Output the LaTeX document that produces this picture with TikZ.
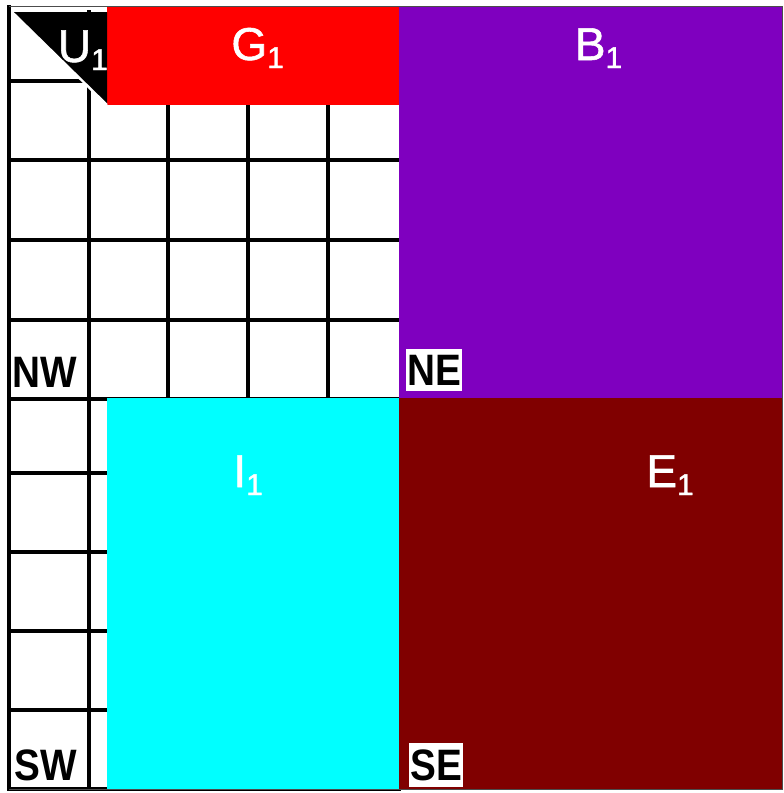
\documentclass[tikz,border=0pt]{standalone}
\usepackage{fontspec}
\setmainfont{Liberation Sans}
\newfontfamily\narrowfont{Liberation Sans}[FakeStretch=0.88]
\newfontfamily\quadfont{Liberation Sans}[FakeBold=1.2]
\definecolor{quadpurple}{RGB}{127,0,191}
\definecolor{quadcyan}{RGB}{0,255,255}
\definecolor{quadmaroon}{RGB}{128,0,0}
\newcommand{\lsub}[1]{\raisebox{-4pt}{\fontsize{15}{15}\selectfont #1}}
\tikzset{
    gridline/.style={line width=2pt, black, line cap=rect},
    quadlabel/.style={text=white, font=\quadfont\fontsize{23}{23}\selectfont, inner sep=0pt, anchor=base west},
    cornerlabel/.style={font=\narrowfont\bfseries\fontsize{22}{22}\selectfont, inner xsep=0.5pt, inner ysep=3pt},
}
\begin{document}
\begin{tikzpicture}[x=0.5pt, y=-0.5pt]
        \useasboundingbox (0,0) rectangle (783,793);
        % 网格
        \draw[gridline] (9,7) -- (9,789);
        \foreach \x in {89,168,248,328} {
            \draw[gridline] (\x,12) -- (\x,789);
        }
        \foreach \y in {81,160,240,320,399,473,552,631,710,789} {
            \draw[gridline] (9,\y) -- (399,\y);
        }
        
        % 四个区域
        \fill[red] (107,7) rectangle (399,105);
        \fill[quadpurple] (399,7) rectangle (783,398);
        \fill[quadcyan] (107,398) rectangle (399,789);
        \fill[quadmaroon] (399,398) rectangle (783,789);
        \fill[black] (12,12) -- (107,12) -- (107,105) -- cycle;
        \draw[white, line width=1.2pt] (12,12) -- (107,105);
        
        % 外框
        \draw[black!70, line width=0.5pt] (9,6) -- (782.5,6) -- (782.5,789.5) -- (9,789.5);
        
        % 标签
        \node[quadlabel] (u1) at (57.5,62) {U\lsub{1}};
        \node[quadlabel] (g1) at (231,60) {G\lsub{1}};
        \node[quadlabel] (b1) at (574.5,60) {B\lsub{1}};
        \node[quadlabel] (i1) at (233,487) {I\lsub{1}};
        \node[quadlabel] (e1) at (646,487) {E\lsub{1}};
        
        \node[cornerlabel] (nw) at (45,372.5) {NW};
        \node[cornerlabel, fill=white] (ne) at (434,370) {NE};
        \node[cornerlabel] (sw) at (45.5,765.5) {SW};
        \node[cornerlabel, fill=white] (se) at (436,765) {SE};
    \end{tikzpicture}
\end{document}
